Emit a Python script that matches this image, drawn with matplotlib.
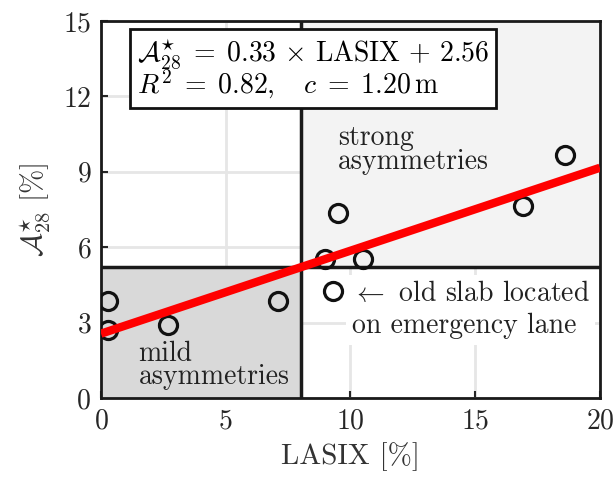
import numpy as np
import matplotlib
matplotlib.use('Agg')
from matplotlib import pyplot as plt
from matplotlib.patches import Rectangle

# LASIX [%] vs asymmetry index A*_28 [%]
lasix = [0.3, 0.3, 2.7, 7.1, 9.0, 9.5, 10.5, 16.9, 18.6]
asym = [3.85, 2.7, 2.9, 3.85, 5.55, 7.35, 5.55, 7.65, 9.65]
# old slab on the emergency lane
outlier_x = [9.3]
outlier_y = [4.25]

slope = 0.33
intercept = 2.56
r2 = 0.82
c_len = 1.20

x_split = 8
y_split = 5.2

xticks = [0, 5, 10, 15, 20]
yticks = [0, 3, 6, 9, 12, 15]

plt.rcParams['font.family'] = 'cmr10'
plt.rcParams['mathtext.fontset'] = 'cm'
plt.rcParams['axes.unicode_minus'] = False
plt.rcParams['axes.formatter.use_mathtext'] = True

fig = plt.figure(figsize=(6.14, 4.83), dpi=100)
ax = fig.add_axes([0.1645, 0.176, 0.8125, 0.7805])
ax.set_xlim(0, 20)
ax.set_ylim(0, 15)
ax.set_xticks(xticks)
ax.set_yticks(yticks)
ax.grid(True, color='#e6e6e6', linewidth=2, zorder=0)
ax.set_axisbelow(True)
ax.tick_params(direction='in', length=5, width=1.5, labelsize=20, colors='#262626', pad=7)
for sp in ax.spines.values():
    sp.set_linewidth(2)
    sp.set_color('#1a1a1a')

# shaded regions
ax.add_patch(Rectangle((0, 0), x_split, y_split, facecolor='#d9d9d9', edgecolor='none', zorder=1))
ax.add_patch(Rectangle((x_split, y_split), 20 - x_split, 15 - y_split, facecolor='#f3f3f3', edgecolor='none', zorder=1))
ax.axvline(x_split, color='#1a1a1a', linewidth=2.5, zorder=3)
ax.axhline(y_split, color='#1a1a1a', linewidth=2.5, zorder=3)

ax.plot(lasix, asym, 'o', markersize=13, markerfacecolor='none', markeredgecolor='#111111', markeredgewidth=2.3, zorder=4)
ax.plot(outlier_x, outlier_y, 'o', markersize=13, markerfacecolor='none', markeredgecolor='#111111', markeredgewidth=2.3, zorder=4)

xs = np.array([0, 20])
ax.plot(xs, slope * xs + intercept, color='#ff0000', linewidth=6, solid_capstyle='butt', zorder=5)

# fit box
eq1 = r'$\mathcal{A}^{\star}_{28}\;=\;%.2f\,\times\,\mathrm{LASIX}\,+\,%.2f$' % (slope, intercept)
eq2 = r'$R^2\;=\;%.2f,\quad c\;=\;%.2f\,\mathrm{m}$' % (r2, c_len)
ax.text(1.45, 14.35, eq1 + '\n' + eq2,
        fontsize=20, va='top', ha='left', linespacing=0.9, zorder=6,
        bbox=dict(boxstyle='square,pad=0.25', facecolor='white', edgecolor='#111111', linewidth=2))

ax.text(9.5, 9.87, 'strong\nasymmetries', fontsize=20, color='#222222', va='center', ha='left',
        linespacing=0.85, zorder=6)
ax.text(1.5, 1.29, 'mild\nasymmetries', fontsize=20, color='#222222', va='center', ha='left',
        linespacing=0.85, zorder=6)
ax.text(10.05, 3.5, r'$\leftarrow$ old slab located' + '\non emergency lane', fontsize=20, color='#222222',
        va='center', ha='left', linespacing=1.3, zorder=6,
        bbox=dict(boxstyle='square,pad=0.2', facecolor='white', edgecolor='none'))

ax.set_xlabel(r'LASIX [%]', fontsize=21, color='#333333', labelpad=6)
ax.set_ylabel(r'$\mathcal{A}^{\star}_{28}\ [\%]$', fontsize=21, color='#333333', labelpad=8)

fig.savefig('out.png', dpi=100)
